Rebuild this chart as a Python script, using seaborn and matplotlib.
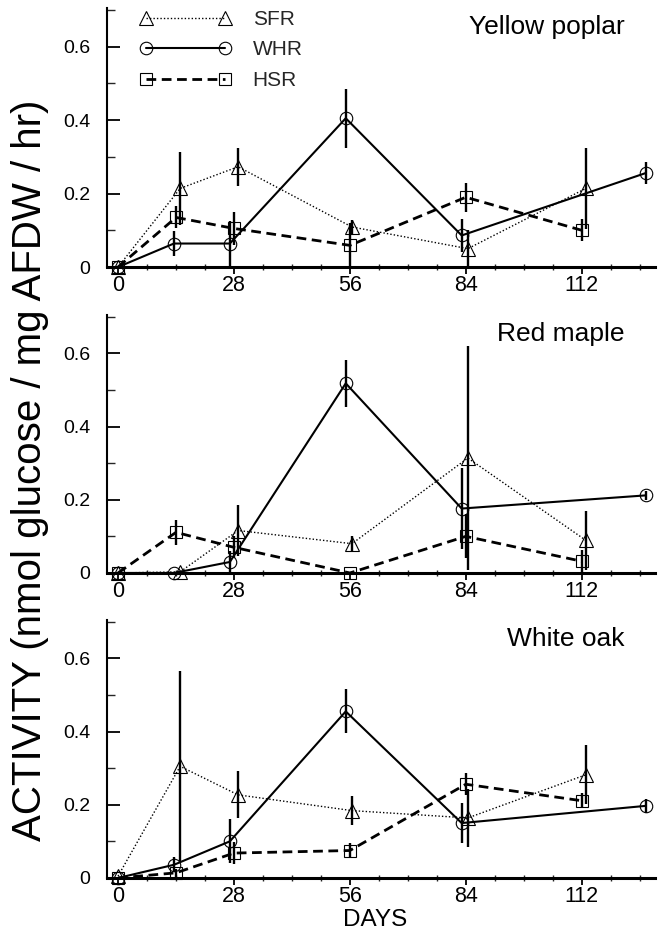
import numpy as np
import pandas as pd
import matplotlib
matplotlib.use("Agg")
import matplotlib.pyplot as plt
from matplotlib.ticker import MultipleLocator, FixedLocator
import seaborn as sns

sns.set_theme(style="white")
plt.rcParams['font.family'] = ['Liberation Sans', 'DejaVu Sans']

# ---- data ----
panels = ["Yellow poplar", "Red maple", "White oak"]
series = ["SFR", "WHR", "HSR"]

sfr_days = [0, 15, 29, 56.5, 84.5, 113]
whr_days = [0, 13.5, 27, 55, 83, 127.5]
hsr_days = [0, 14, 28, 56, 84, 112]

# Yellow poplar
yp_sfr = [0.0, 0.214, 0.273, 0.109, 0.05, 0.214]
yp_sfr_err = [0.0, 0.10, 0.052, 0.02, 0.05, 0.11]
yp_whr = [0.0, 0.064, 0.064, 0.405, 0.086, 0.256]
yp_whr_err = [0.0, 0.035, 0.06, 0.08, 0.045, 0.03]
yp_hsr = [0.0, 0.135, 0.105, 0.059, 0.19, 0.10]
yp_hsr_err = [0.0, 0.03, 0.045, 0.06, 0.04, 0.03]

# Red maple
rm_sfr = [0.0, 0.003, 0.116, 0.08, 0.314, 0.089]
rm_sfr_err = [0.0, 0.0, 0.07, 0.02, 0.307, 0.08]
rm_whr = [0.0, 0.0, 0.03, 0.518, 0.176, 0.212]
rm_whr_err = [0.0, 0.0, 0.03, 0.065, 0.11, 0.012]
rm_hsr = [0.0, 0.111, 0.07, 0.0, 0.10, 0.032]
rm_hsr_err = [0.0, 0.035, 0.03, 0.0, 0.06, 0.03]

# White oak
wo_sfr = [0.005, 0.305, 0.227, 0.184, 0.164, 0.282]
wo_sfr_err = [0.0, 0.26, 0.064, 0.04, 0.08, 0.08]
wo_whr = [0.0, 0.036, 0.10, 0.455, 0.15, 0.197]
wo_whr_err = [0.0, 0.02, 0.06, 0.06, 0.055, 0.02]
wo_hsr = [0.0, 0.014, 0.068, 0.075, 0.256, 0.211]
wo_hsr_err = [0.0, 0.01, 0.03, 0.02, 0.03, 0.02]

x_ticks = [0, 28, 56, 84, 112]
x_tick_labels = ["0", "28", "56", "84", "112"]
y_ticks = [0, 0.2, 0.4, 0.6]
y_tick_labels = ["0", "0.2", "0.4", "0.6"]

panel_data = [
    {"SFR": (yp_sfr, yp_sfr_err), "WHR": (yp_whr, yp_whr_err), "HSR": (yp_hsr, yp_hsr_err)},
    {"SFR": (rm_sfr, rm_sfr_err), "WHR": (rm_whr, rm_whr_err), "HSR": (rm_hsr, rm_hsr_err)},
    {"SFR": (wo_sfr, wo_sfr_err), "WHR": (wo_whr, wo_whr_err), "HSR": (wo_hsr, wo_hsr_err)},
]
days_map = {"SFR": sfr_days, "WHR": whr_days, "HSR": hsr_days}

styles = {
    "SFR": dict(marker="^", linestyle=(0, (1, 1.5)), linewidth=1.0, markersize=9.5),
    "WHR": dict(marker="o", linestyle="-", linewidth=1.5, markersize=9),
    "HSR": dict(marker="s", linestyle=(0, (3.5, 2.0)), linewidth=2.0, markersize=8),
}

fig = plt.figure(figsize=(6.65, 9.35), dpi=100)
positions = [
    [0.161, 0.7144, 0.824, 0.277],
    [0.161, 0.3872, 0.824, 0.276],
    [0.161, 0.0610, 0.824, 0.276],
]

for i, (pos, title, pdata) in enumerate(zip(positions, panels, panel_data)):
    ax = fig.add_axes(pos)
    for s in series:
        vals, errs = pdata[s]
        d = days_map[s]
        df = pd.DataFrame({"day": d, "value": vals})
        st = styles[s]
        sns.lineplot(data=df, x="day", y="value", ax=ax, color="black",
                     sort=False, estimator=None, label=s,
                     marker=st["marker"], linestyle=st["linestyle"],
                     linewidth=st["linewidth"], markersize=st["markersize"],
                     markerfacecolor="none", markeredgecolor="black",
                     markeredgewidth=0.8, clip_on=False, zorder=3)
        v = np.array(vals)
        e = np.array(errs)
        ax.vlines(d, np.clip(v - e, 0, None), v + e, color="black",
                  linewidth=1.7, zorder=4)
    ax.set_xlim(-2.65, 129.7)
    ax.set_ylim(0, 0.705)
    ax.set_xlabel("")
    ax.set_ylabel("")
    ax.xaxis.set_major_locator(FixedLocator(x_ticks))
    ax.set_xticklabels(x_tick_labels, fontsize=15.5)
    ax.xaxis.set_minor_locator(MultipleLocator(7))
    ax.yaxis.set_major_locator(FixedLocator(y_ticks))
    ax.set_yticklabels(y_tick_labels, fontsize=14)
    ax.yaxis.set_minor_locator(MultipleLocator(0.1))
    ax.tick_params(axis="x", which="major", direction="out", length=5, width=1.3,
                   bottom=True, pad=1, colors="black")
    ax.tick_params(axis="x", which="minor", direction="inout", length=4, width=1.0,
                   bottom=True)
    ax.tick_params(axis="y", which="major", direction="in", length=9, width=1.3,
                   left=True, pad=12, colors="black")
    ax.tick_params(axis="y", which="minor", direction="in", length=6, width=1.0,
                   left=True)
    for sp in ["top", "right"]:
        ax.spines[sp].set_visible(False)
    ax.spines["left"].set_color("black")
    ax.spines["left"].set_linewidth(1.5)
    ax.spines["bottom"].set_color("black")
    ax.spines["bottom"].set_linewidth(2.2)
    ax.text(0.945, 0.925, title, transform=ax.transAxes, ha="right", va="center",
            fontsize=19, color="black")
    if i == 0:
        h, l = ax.get_legend_handles_labels()
        ax.legend(h, l, loc="upper left", bbox_to_anchor=(0.045, 1.025), frameon=False,
                  numpoints=2, handlelength=4.4, handletextpad=1.0,
                  labelspacing=0.55, fontsize=15, borderaxespad=0.0)
    else:
        lg = ax.get_legend()
        if lg is not None:
            lg.remove()

fig.text(0.045, 0.497, "ACTIVITY (nmol glucose / mg AFDW / hr)", rotation=90,
         ha="center", va="center", fontsize=29, color="black")
fig.text(0.564, 0.016, "DAYS", ha="center", va="center", fontsize=17.5, color="black")

fig.savefig("out.png", dpi=100)
